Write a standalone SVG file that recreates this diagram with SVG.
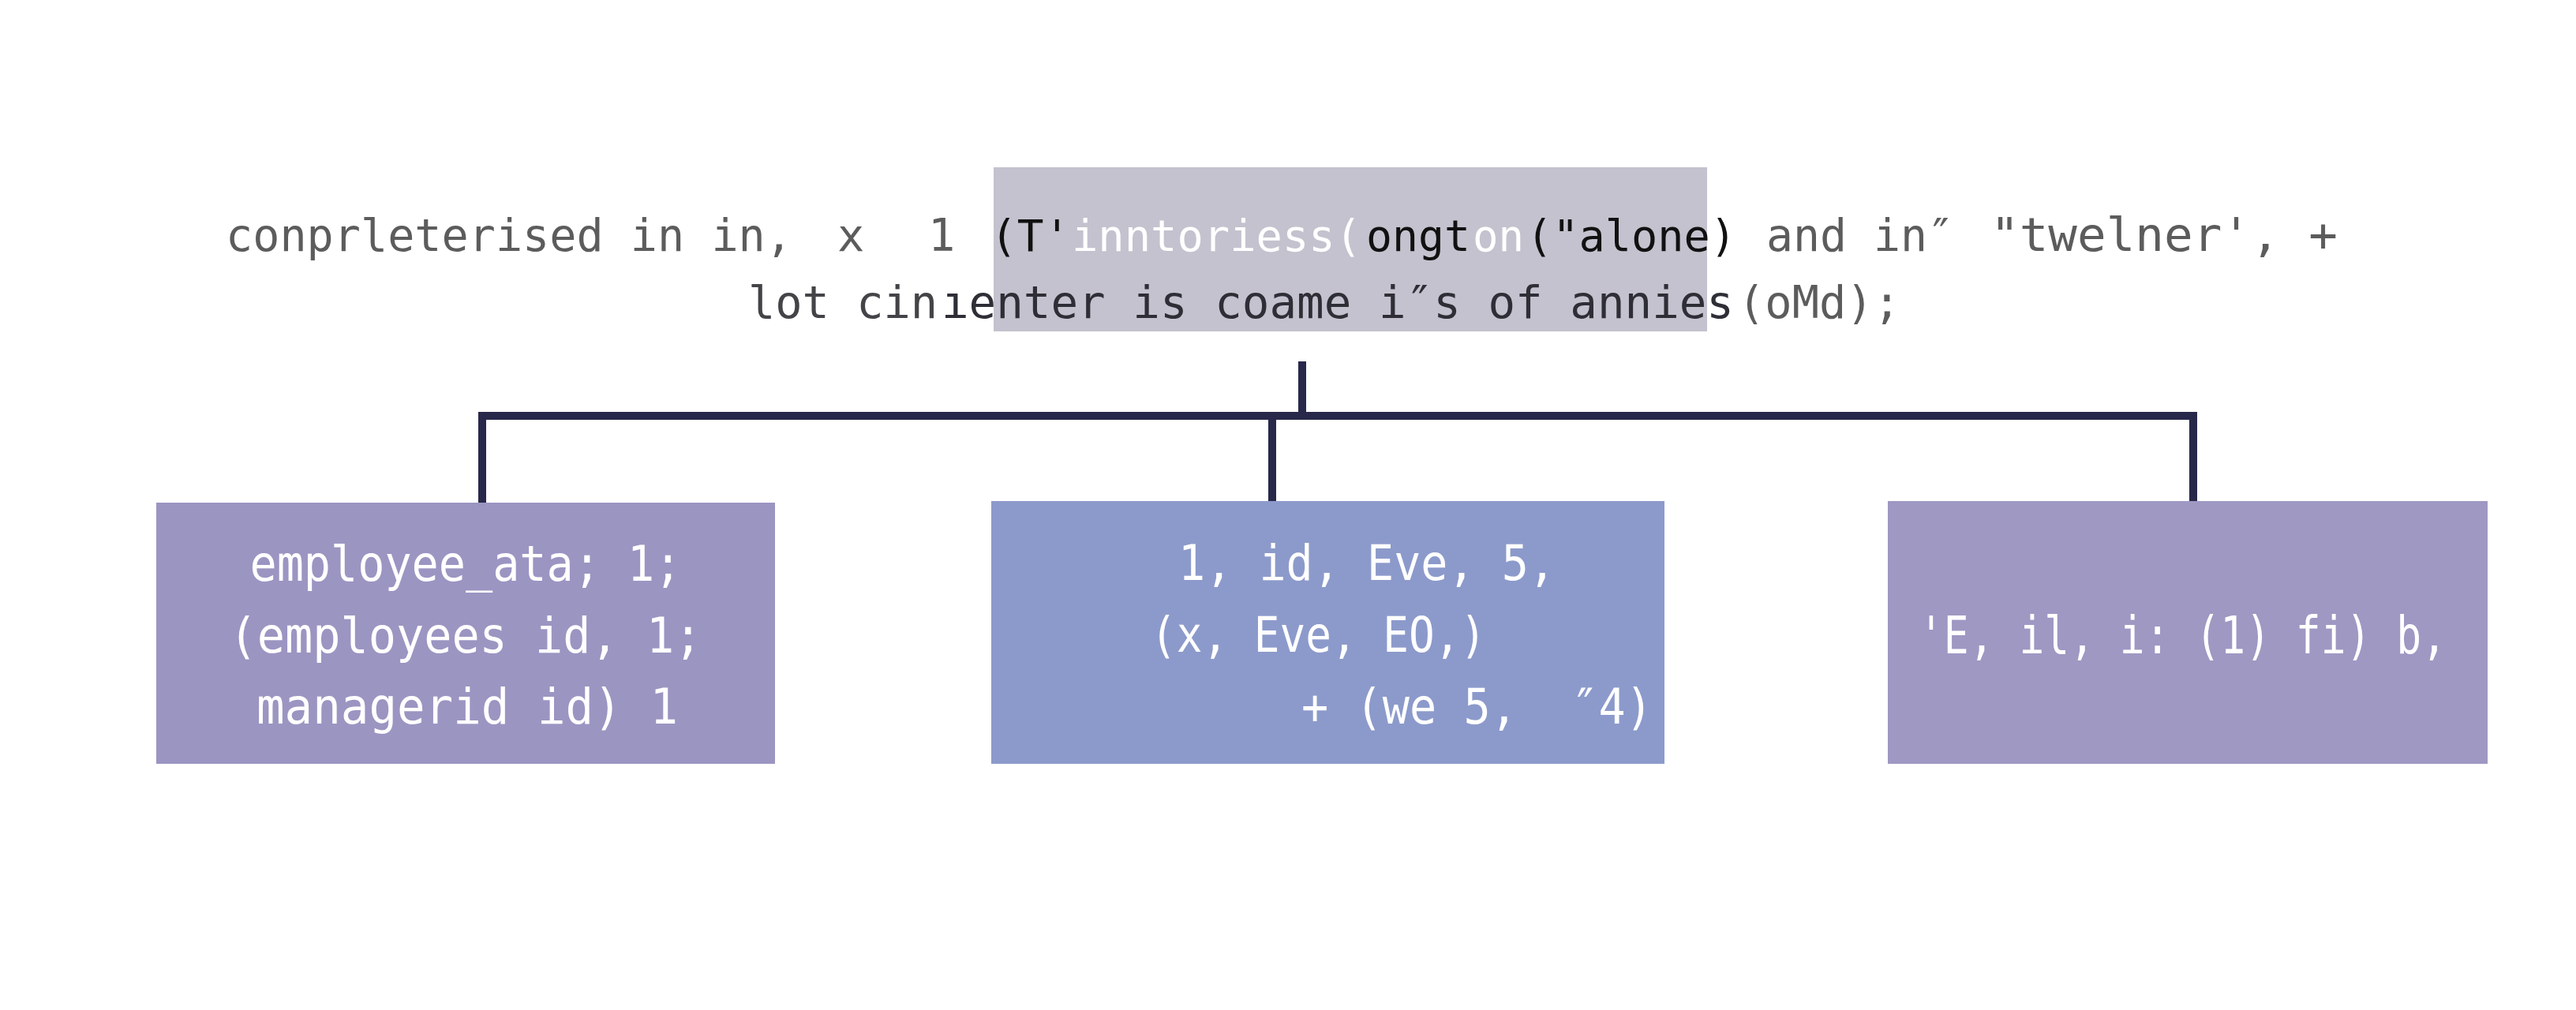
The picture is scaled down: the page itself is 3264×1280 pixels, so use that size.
<svg xmlns="http://www.w3.org/2000/svg" width="3264" height="1280" viewBox="0 0 3264 1280">
<style>
.mono{font-family:"DejaVu Sans Mono","Liberation Mono",monospace;font-size:57px}
.mid{font-size:56px}
.nt{font-family:"DejaVu Sans Mono","Liberation Mono",monospace;font-size:63px;fill:#ffffff}
.conn{fill:none;stroke:#28284a;stroke-width:10;stroke-linejoin:miter;stroke-linecap:butt}
.g1{fill:#5c5c5c}
.blk{fill:#111111}
.wht{fill:#ffffff}
.dk{fill:#2e2e36}
.g2{fill:#444448}
</style>
<rect x="0" y="0" width="3264" height="1280" fill="#ffffff"/>
<g id="header">
<rect x="1259" y="212" width="904" height="208" fill="#c4c2ce"/>
<text class="mono g1" x="286" y="318" textLength="718" lengthAdjust="spacingAndGlyphs">conprleterised in in,</text>
<text class="mono g1" x="1061" y="318">x</text>
<text class="mono g1" x="1176" y="318">1</text>
<text class="mono mid blk" x="1255" y="318">(T'</text>
<text class="mono mid wht" x="1358" y="318" textLength="367" lengthAdjust="spacingAndGlyphs">inntoriess(</text>
<text class="mono mid blk" x="1731" y="318" textLength="132" lengthAdjust="spacingAndGlyphs">ongt</text>
<text class="mono mid wht" x="1866" y="318" textLength="65" lengthAdjust="spacingAndGlyphs">on</text>
<text class="mono mid blk" x="1934" y="318" textLength="266" lengthAdjust="spacingAndGlyphs">("alone)</text>
<text class="mono g1" x="2238" y="318" textLength="238" lengthAdjust="spacingAndGlyphs">and in″</text>
<text class="mono g1" x="2522" y="318" textLength="440" lengthAdjust="spacingAndGlyphs" style="font-size:59px">"twelner', +</text>
<text class="mono g2" x="948" y="403" textLength="240" lengthAdjust="spacingAndGlyphs">lot cin</text>
<text class="mono dk" x="1193" y="403" textLength="1004" lengthAdjust="spacingAndGlyphs">ıenter is coame i″s of annies</text>
<text class="mono g1" x="2202" y="403" textLength="206" lengthAdjust="spacingAndGlyphs">(oMd);</text>
</g>
<g id="connectors">
<path class="conn" d="M1650 458 V527"/>
<path class="conn" d="M611 637 V527 H2779 V635"/>
<path class="conn" d="M1612 527 V635"/>
</g>
<g id="node1">
<rect x="198" y="637" width="784" height="331" fill="#9b95c2"/>
<text class="nt" x="590" y="736" text-anchor="middle" textLength="547" lengthAdjust="spacingAndGlyphs">employee_ata; 1;</text>
<text class="nt" x="590" y="827" text-anchor="middle" textLength="599" lengthAdjust="spacingAndGlyphs">(employees id, 1;</text>
<text class="nt" x="592" y="917" text-anchor="middle" textLength="534" lengthAdjust="spacingAndGlyphs">managerid id) 1</text>
</g>
<g id="node2">
<rect x="1256" y="635" width="853" height="333" fill="#8c9acb"/>
<text class="nt" x="1493" y="735" textLength="478" lengthAdjust="spacingAndGlyphs">1, id, Eve, 5,</text>
<text class="nt" x="1458" y="826" textLength="425" lengthAdjust="spacingAndGlyphs">(x, Eve, EO,)</text>
<text class="nt" x="1649" y="917" textLength="445" lengthAdjust="spacingAndGlyphs" xml:space="preserve">+ (we 5,  ″4)</text>
</g>
<g id="node3">
<rect x="2392" y="635" width="760" height="333" fill="#9e98c3"/>
<text class="nt" x="2431" y="828" textLength="669" lengthAdjust="spacingAndGlyphs" style="font-size:65px">'E, il, i: (1) fi) b,</text>
</g>
</svg>
